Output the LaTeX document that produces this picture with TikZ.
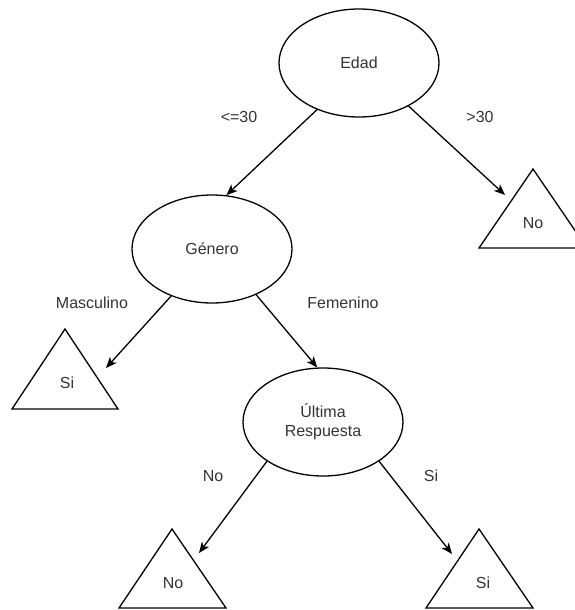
\documentclass[tikz,border=0pt]{standalone}
\usepackage{fontspec}
\setmainfont{Liberation Sans}
\usetikzlibrary{arrows.meta,shapes.geometric}
\begin{document}
\begin{tikzpicture}[x=1pt,y=-1pt,
  txt/.style={text=black!80,font=\fontsize{16}{19}\selectfont,inner sep=0pt},
  ell/.style={draw,ellipse,line width=1.3pt,minimum width=160pt,minimum height=108pt,inner sep=0pt,txt},
  tri/.style={draw,line width=1.3pt,line join=miter},
  arr/.style={line width=1.3pt,-{Stealth[length=11pt,width=9pt,inset=3pt]}},
  lbl/.style={txt}]
\useasboundingbox (0,0) rectangle (574,610);
% internal nodes
\node[ell] (edad) at (359,63) {Edad};
\node[ell] (genero) at (212,249) {Género};
\node[ell,align=center] (ultima) at (323,422) {Última\\Respuesta};
% leaf triangles
\draw[tri] (533,169) -- (479,248) -- (587,248) -- cycle;
\node[txt] (notop) at (533,223) {No};
\draw[tri] (65,329) -- (12,409) -- (118,409) -- cycle;
\node[txt] (simasc) at (67,383) {Si};
\draw[tri] (172,529) -- (119,608) -- (226,608) -- cycle;
\node[txt] (nobot) at (173,583) {No};
\draw[tri] (479,529) -- (426,608) -- (533,608) -- cycle;
\node[txt] (sibot) at (483,583) {Si};
% arrow targets
\coordinate (tnotop) at (505,195);
\coordinate (tsimasc) at (106,368);
\coordinate (tnobot) at (199,553);
\coordinate (tsibot) at (452,554);
% connectors
\draw[arr] (edad.-132) -- (genero.75);
\draw[arr] (edad.-41) -- (tnotop);
\draw[arr] (genero.-131) -- (tsimasc);
\draw[arr] (genero.-46) -- (ultima.96);
\draw[arr] (ultima.-145) -- (tnobot);
\draw[arr] (ultima.-35) -- (tsibot);
% edge labels
\node[lbl] (l1) at (239,117) {<=30};
\node[lbl] (l2) at (480,117) {>30};
\node[lbl] (l3) at (92,303) {Masculino};
\node[lbl] (l4) at (343,303) {Femenino};
\node[lbl] (l5) at (213,476) {No};
\node[lbl] (l6) at (431,476) {Si};
\end{tikzpicture}
\end{document}
